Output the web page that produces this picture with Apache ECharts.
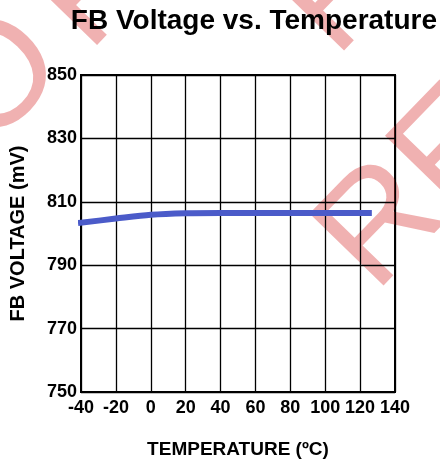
<!DOCTYPE html>
<html>
<head>
<meta charset="utf-8">
<script src="https://cdn.jsdelivr.net/npm/echarts@6/dist/echarts.min.js"></script>
<style>
  html, body { margin: 0; padding: 0; background: #fff; }
  #main { width: 440px; height: 464px; }
</style>
</head>
<body>
<div id="main"></div>
<script>
// temperature (°C) and FB voltage (mV)
var temps = [-40, -20, 0, 20, 40, 60, 80, 100, 125];
var fbVolt = [803.4, 804.7, 805.9, 806.4, 806.5, 806.5, 806.5, 806.5, 806.5];

var xTicks = { min: -40, max: 140, step: 20 };
var yTicks = { min: 750, max: 850, step: 20 };

// watermark fragments
var stampText = ['RE', 'REF', 'FO', 'R'];

var chart = echarts.init(document.getElementById('main'));

var data = [];
for (var i = 0; i < temps.length; i++) {
    data.push([temps[i], fbVolt[i]]);
}

var font = '"Liberation Sans", Arial, sans-serif';
var pink = 'rgba(215,50,50,0.38)';

function stamp(txt, x, y) {
    return { type: 'text', x: x, y: y - 54, style: { text: txt, font: 'normal 150px ' + font, fill: pink, verticalAlign: 'middle' } };
}

option = {
    animation: false,
    backgroundColor: '#fff',
    title: {
        text: 'FB Voltage vs. Temperature',
        right: 3,
        top: 7,
        padding: 0,
        textStyle: { fontFamily: font, fontSize: 28, fontWeight: 'bold', color: '#000' }
    },
    grid: {
        left: 77, right: 45, top: 75, bottom: 71,
        show: true, borderColor: '#000', borderWidth: 2
    },
    xAxis: {
        type: 'value',
        min: xTicks.min, max: xTicks.max, interval: xTicks.step,
        name: 'TEMPERATURE (ºC)',
        nameLocation: 'middle',
        nameGap: 48,
        nameTextStyle: { fontFamily: font, fontSize: 19, fontWeight: 'bold', color: '#000' },
        axisLine: { onZero: false, lineStyle: { color: '#000', width: 2 } },
        axisTick: { show: false },
        axisLabel: { fontFamily: font, fontSize: 18, fontWeight: 'bold', color: '#000', margin: 7 },
        splitLine: { lineStyle: { color: '#000', width: 1.3 } }
    },
    yAxis: {
        type: 'value',
        min: yTicks.min, max: yTicks.max, interval: yTicks.step,
        name: 'FB VOLTAGE (mV)',
        nameLocation: 'middle',
        nameGap: 53,
        nameTextStyle: { fontFamily: font, fontSize: 20, fontWeight: 'bold', color: '#000' },
        axisLine: { show: true, onZero: false, lineStyle: { color: '#000', width: 2 } },
        axisTick: { show: false },
        axisLabel: { fontFamily: font, fontSize: 18, fontWeight: 'bold', color: '#000', margin: 4 },
        splitLine: { lineStyle: { color: '#000', width: 1.3 } }
    },
    series: [{
        type: 'line',
        data: data,
        smooth: 0.3,
        showSymbol: false,
        lineStyle: { color: '#4b5bc9', width: 6, cap: 'square' }
    }],
    graphic: [{
        type: 'group',
        x: 384,
        y: 303,
        rotation: 0.80,
        z: 100,
        silent: true,
        children: [
            stamp(stampText[0], 0, 0),
            stamp(stampText[1], 141, -192),
            stamp(stampText[2], -258, -377),
            stamp(stampText[3], -27, -373)
        ]
    }]
};
chart.setOption(option);
</script>
</body>
</html>
